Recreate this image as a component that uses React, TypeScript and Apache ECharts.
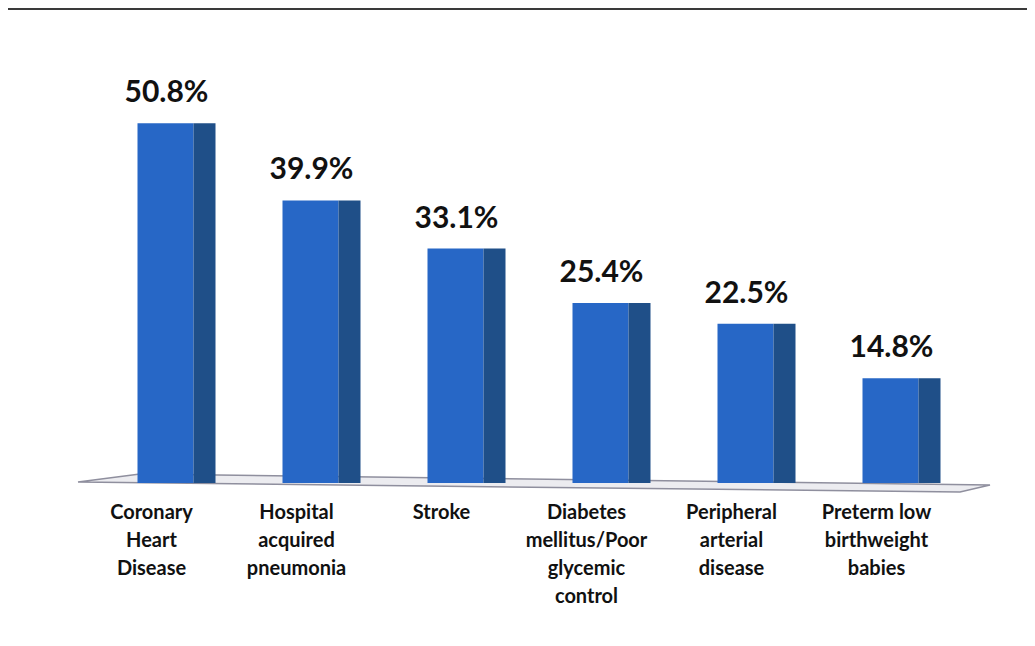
import React, { useEffect, useRef } from "react";
import * as echarts from "echarts";

// Prevalence of each condition, percent
const categories = [
  "Coronary\nHeart\nDisease",
  "Hospital\nacquired\npneumonia",
  "Stroke",
  "Diabetes\nmellitus/Poor\nglycemic\ncontrol",
  "Peripheral\narterial\ndisease",
  "Preterm low\nbirthweight\nbabies",
];
const values = [50.8, 39.9, 33.1, 25.4, 22.5, 14.8];

const FRONT = "#2767c6";
const SIDE = "#1f4f88";
const FONT = "Lato, 'Noto Sans', sans-serif";

export default function App() {
  const ref = useRef<HTMLDivElement>(null);

  useEffect(() => {
    if (!ref.current) return;
    const chart = echarts.init(ref.current, undefined, { renderer: "svg" });

    const frontW = 56;
    const sideW = 22;

    chart.setOption({
      animation: false,
      backgroundColor: "#ffffff",
      grid: { left: 93, right: 72, top: 58, bottom: 163 },
      xAxis: {
        type: "category",
        data: categories,
        axisLine: { show: false },
        axisTick: { show: false },
        axisLabel: {
          interval: 0,
          margin: 14,
          color: "#111",
          fontFamily: FONT,
          fontWeight: "bold",
          fontSize: 20,
          lineHeight: 28,
          padding: [0, 28, 0, 0],
        },
      },
      yAxis: {
        type: "value",
        min: 0,
        max: 60,
        show: false,
        splitLine: { show: false },
      },
      graphic: [
        {
          type: "line",
          shape: { x1: 5, y1: 9, x2: 1035, y2: 9 },
          style: { stroke: "#3a3a3a", lineWidth: 2 },
        },
        {
          type: "polygon",
          z: -1,
          shape: {
            points: [
              [78, 482],
              [140, 474],
              [990, 485],
              [960, 492],
            ],
          },
          style: { fill: "#ececf0", stroke: "#8f8f9e", lineWidth: 1.5 },
        },
      ],
      series: [
        {
          type: "custom",
          data: values.map((v, i) => [i, v]),
          encode: { x: 0, y: 1 },
          renderItem: (params: any, api: any) => {
            const top = api.coord([api.value(0), api.value(1)]);
            const base = api.coord([api.value(0), 0]);
            const h = base[1] - top[1];
            const left = top[0] - frontW / 2;
            return {
              type: "group",
              children: [
                {
                  type: "rect",
                  shape: { x: left, y: top[1], width: frontW, height: h },
                  style: { fill: FRONT },
                },
                {
                  type: "rect",
                  shape: { x: left + frontW, y: top[1], width: sideW, height: h },
                  style: { fill: SIDE },
                },
                {
                  type: "text",
                  x: top[0] + 1,
                  y: top[1] - 33,
                  style: {
                    text: api.value(1).toFixed(1) + "%",
                    fill: "#111",
                    font: `bold 30px ${FONT}`,
                    align: "center",
                    verticalAlign: "middle",
                  },
                },
              ],
            };
          },
        },
      ],
    });

    return () => chart.dispose();
  }, []);

  return <div ref={ref} style={{ width: 1035, height: 646, margin: -8 }} />;
}
